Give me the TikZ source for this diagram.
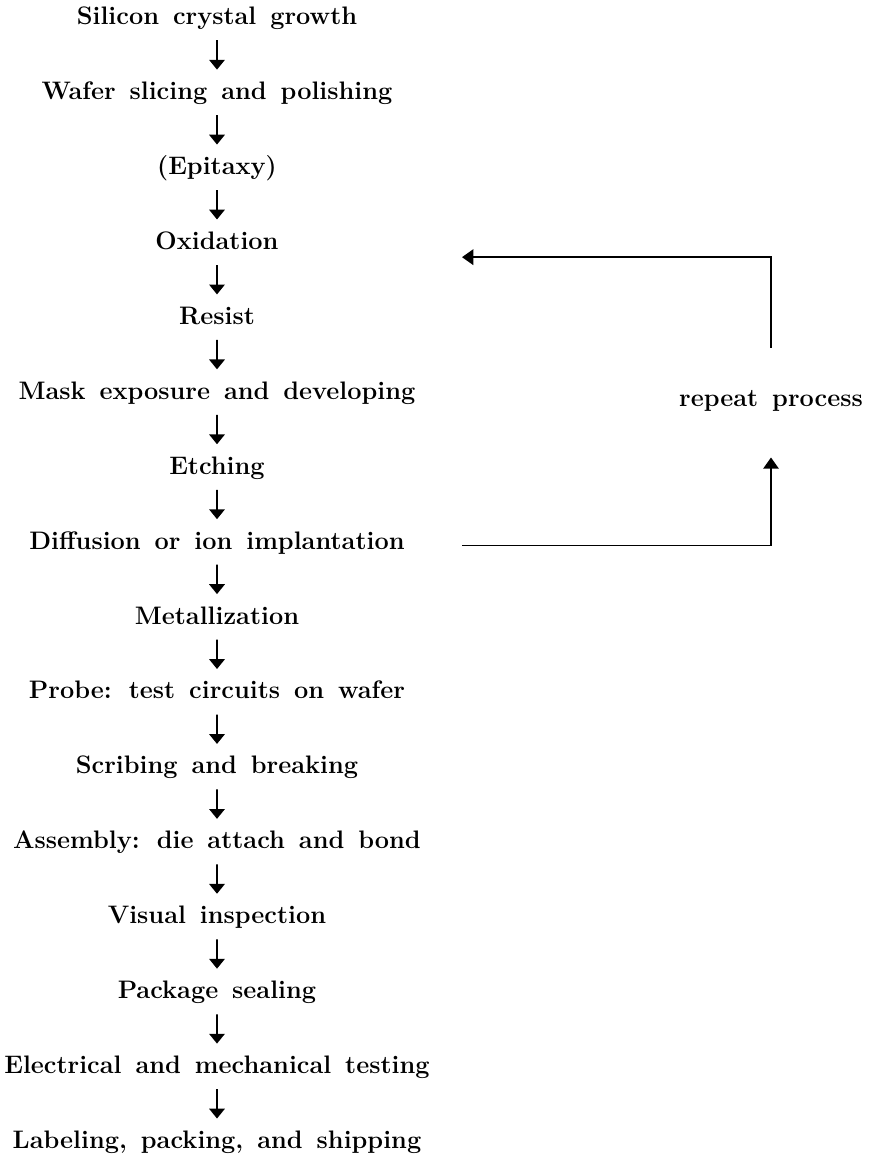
\documentclass[tikz,border=0pt]{standalone}
\usepackage{amsmath}
\usepackage{tikz}
\usetikzlibrary{arrows.meta}
\newcommand{\flowfont}{\fontsize{18}{21}\selectfont\bfseries\spaceskip=0.55em plus 0.1em}

\begin{document}
\begin{tikzpicture}[
		level distance=1.873cm,
		every node/.style={font=\flowfont,inner sep=0pt,text height=13pt,text depth=3.5pt},
		edge from parent/.style={draw,line width=1.3pt,-{Triangle[length=7pt,width=11pt]},
			shorten <=0.26cm,shorten >=0.285cm},
		loopline/.style={draw,line width=1.2pt,-{Triangle[length=8pt,width=11pt]}}
		]
		\useasboundingbox (-5.425,0.45) rectangle (16.3,-28.5);
		\node (grow) {Silicon crystal growth}
		child {node (wafer) {Wafer slicing and polishing}
			child {node (epi) {(Epitaxy)}
				child {node (oxi) {Oxidation}
					child {node (resist) {Resist}
						child {node (mask) {Mask exposure and developing}
							child {node (etch) {Etching}
								child {node (diff) {Diffusion or ion implantation}
									child {node (metal) {Metallization}
										child {node (probe) {Probe: test circuits on wafer}
											child {node (scribe) {Scribing and breaking}
												child {node (assy) {Assembly: die attach and bond}
													child {node (visual) {Visual inspection}
														child {node (seal) {Package sealing}
															child {node (test) {Electrical and mechanical testing}
																child {node (ship) {Labeling, packing, and shipping}}
															}
														}
													}
												}
											}
										}
									}
								}
							}
						}
					}
				}
			}
		};
		
		\node (rep) at ([shift={(13.85,-0.19)}]mask.center) {repeat process};
		
		\draw[loopline,shorten >=1.135cm] ([shift={(6.125,-0.075)}]diff.center) -| (rep.south);
		\draw[loopline,shorten <=1.01cm] (rep.north) |- ([shift={(6.125,-0.36)}]oxi.center);
	\end{tikzpicture}
\end{document}
